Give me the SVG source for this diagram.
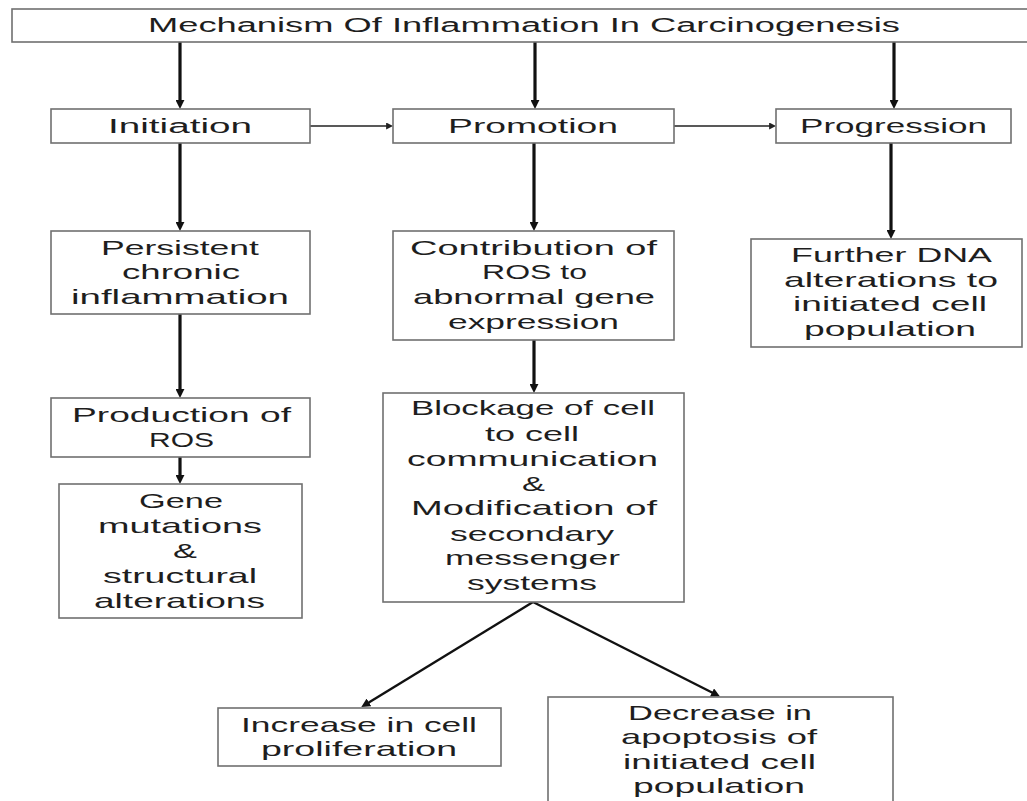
<svg xmlns="http://www.w3.org/2000/svg" width="1027" height="801" viewBox="0 0 1027 801">
<style>
.box{fill:#fff;stroke:#707070;stroke-width:1.6}
.t{font-family:"Liberation Sans",Arial,sans-serif;font-size:21px;fill:#1e1e1e}
.tt{font-family:"Liberation Sans",Arial,sans-serif;font-size:20px;fill:#1e1e1e}
.thick{stroke:#111;stroke-width:3.2;fill:none}
.thin{stroke:#222;stroke-width:1.4;fill:none}
.diag{stroke:#111;stroke-width:2.4;fill:none}
</style>
<defs>
<marker id="ah" viewBox="0 0 8 8" markerWidth="9" markerHeight="9" refX="1" refY="4" orient="auto" markerUnits="userSpaceOnUse">
<path d="M0,0 L8,4 L0,8 z" fill="#111"/>
</marker>
<marker id="ahs" viewBox="0 0 8 8" markerWidth="7" markerHeight="7" refX="1" refY="4" orient="auto" markerUnits="userSpaceOnUse">
<path d="M0,0 L8,4 L0,8 z" fill="#222"/>
</marker>
</defs>
<rect width="1027" height="801" fill="#fff"/>
<g id="connectors">
<line class="thick" x1="180" y1="42" x2="180" y2="101" marker-end="url(#ah)"/>
<line class="thick" x1="535" y1="42" x2="535" y2="101" marker-end="url(#ah)"/>
<line class="thick" x1="894" y1="42" x2="894" y2="101" marker-end="url(#ah)"/>
<line class="thin" x1="310" y1="126" x2="387" y2="126" marker-end="url(#ahs)"/>
<line class="thin" x1="674" y1="126" x2="770" y2="126" marker-end="url(#ahs)"/>
<line class="thick" x1="180" y1="143" x2="180" y2="223" marker-end="url(#ah)"/>
<line class="thick" x1="180" y1="314" x2="180" y2="390" marker-end="url(#ah)"/>
<line class="thick" x1="180" y1="457" x2="180" y2="476" marker-end="url(#ah)"/>
<line class="thick" x1="534" y1="143" x2="534" y2="223" marker-end="url(#ah)"/>
<line class="thick" x1="534" y1="340" x2="534" y2="385" marker-end="url(#ah)"/>
<line class="thick" x1="891" y1="143" x2="891" y2="231" marker-end="url(#ah)"/>
<line class="diag" x1="533" y1="602" x2="368" y2="703" marker-end="url(#ah)"/>
<line class="diag" x1="533" y1="602" x2="713" y2="693" marker-end="url(#ah)"/>
</g>
<g id="title">
<rect class="box" x="12" y="9" width="1030" height="33"/>
<text class="tt" x="148" y="32" textLength="752" lengthAdjust="spacingAndGlyphs">Mechanism Of Inflammation In Carcinogenesis</text>
</g>
<g id="initiation">
<rect class="box" x="51" y="109" width="259" height="34"/>
<text class="tt" x="108" y="133" textLength="144" lengthAdjust="spacingAndGlyphs">Initiation</text>
</g>
<g id="promotion">
<rect class="box" x="393" y="109" width="281" height="34"/>
<text class="tt" x="448" y="133" textLength="170" lengthAdjust="spacingAndGlyphs">Promotion</text>
</g>
<g id="progression">
<rect class="box" x="776" y="109" width="235" height="34"/>
<text class="tt" x="800" y="133" textLength="187" lengthAdjust="spacingAndGlyphs">Progression</text>
</g>
<g id="persistent">
<rect class="box" x="51" y="231" width="259" height="83"/>
<text class="t" x="101" y="255" textLength="158" lengthAdjust="spacingAndGlyphs">Persistent</text>
<text class="t" x="122" y="279" textLength="118" lengthAdjust="spacingAndGlyphs">chronic</text>
<text class="t" x="71" y="304" textLength="218" lengthAdjust="spacingAndGlyphs">inflammation</text>
</g>
<g id="production">
<rect class="box" x="51" y="398" width="259" height="59"/>
<text class="t" x="72" y="422" textLength="219" lengthAdjust="spacingAndGlyphs">Production of</text>
<text class="t" x="149" y="447" textLength="65" lengthAdjust="spacingAndGlyphs">ROS</text>
</g>
<g id="gene">
<rect class="box" x="59" y="484" width="243" height="134"/>
<text class="t" x="139" y="508" textLength="84" lengthAdjust="spacingAndGlyphs">Gene</text>
<text class="t" x="98" y="533" textLength="164" lengthAdjust="spacingAndGlyphs">mutations</text>
<text class="t" x="173" y="558" textLength="24" lengthAdjust="spacingAndGlyphs">&amp;</text>
<text class="t" x="103" y="583" textLength="154" lengthAdjust="spacingAndGlyphs">structural</text>
<text class="t" x="94" y="608" textLength="171" lengthAdjust="spacingAndGlyphs">alterations</text>
</g>
<g id="contribution">
<rect class="box" x="393" y="231" width="281" height="109"/>
<text class="t" x="410" y="255" textLength="247" lengthAdjust="spacingAndGlyphs">Contribution of</text>
<text class="t" x="482" y="279" textLength="105" lengthAdjust="spacingAndGlyphs">ROS to</text>
<text class="t" x="413" y="304" textLength="242" lengthAdjust="spacingAndGlyphs">abnormal gene</text>
<text class="t" x="448" y="329" textLength="171" lengthAdjust="spacingAndGlyphs">expression</text>
</g>
<g id="blockage">
<rect class="box" x="383" y="393" width="301" height="209"/>
<text class="t" x="411" y="415" textLength="244" lengthAdjust="spacingAndGlyphs">Blockage of cell</text>
<text class="t" x="485" y="441" textLength="94" lengthAdjust="spacingAndGlyphs">to cell</text>
<text class="t" x="407" y="466" textLength="251" lengthAdjust="spacingAndGlyphs">communication</text>
<text class="t" x="522" y="491" textLength="23" lengthAdjust="spacingAndGlyphs">&amp;</text>
<text class="t" x="411" y="515" textLength="246" lengthAdjust="spacingAndGlyphs">Modification of</text>
<text class="t" x="450" y="541" textLength="164" lengthAdjust="spacingAndGlyphs">secondary</text>
<text class="t" x="445" y="565" textLength="175" lengthAdjust="spacingAndGlyphs">messenger</text>
<text class="t" x="467" y="590" textLength="130" lengthAdjust="spacingAndGlyphs">systems</text>
</g>
<g id="further">
<rect class="box" x="751" y="239" width="271" height="108"/>
<text class="t" x="791" y="262" textLength="201" lengthAdjust="spacingAndGlyphs">Further DNA</text>
<text class="t" x="784" y="287" textLength="214" lengthAdjust="spacingAndGlyphs">alterations to</text>
<text class="t" x="793" y="311" textLength="194" lengthAdjust="spacingAndGlyphs">initiated cell</text>
<text class="t" x="804" y="336" textLength="172" lengthAdjust="spacingAndGlyphs">population</text>
</g>
<g id="increase">
<rect class="box" x="218" y="708" width="283" height="58"/>
<text class="t" x="241" y="732" textLength="236" lengthAdjust="spacingAndGlyphs">Increase in cell</text>
<text class="t" x="261" y="756" textLength="196" lengthAdjust="spacingAndGlyphs">proliferation</text>
</g>
<g id="decrease">
<rect class="box" x="548" y="697" width="345" height="115"/>
<text class="t" x="628" y="720" textLength="184" lengthAdjust="spacingAndGlyphs">Decrease in</text>
<text class="t" x="621" y="744" textLength="196" lengthAdjust="spacingAndGlyphs">apoptosis of</text>
<text class="t" x="623" y="769" textLength="193" lengthAdjust="spacingAndGlyphs">initiated cell</text>
<text class="t" x="633" y="793" textLength="172" lengthAdjust="spacingAndGlyphs">population</text>
</g>
</svg>
